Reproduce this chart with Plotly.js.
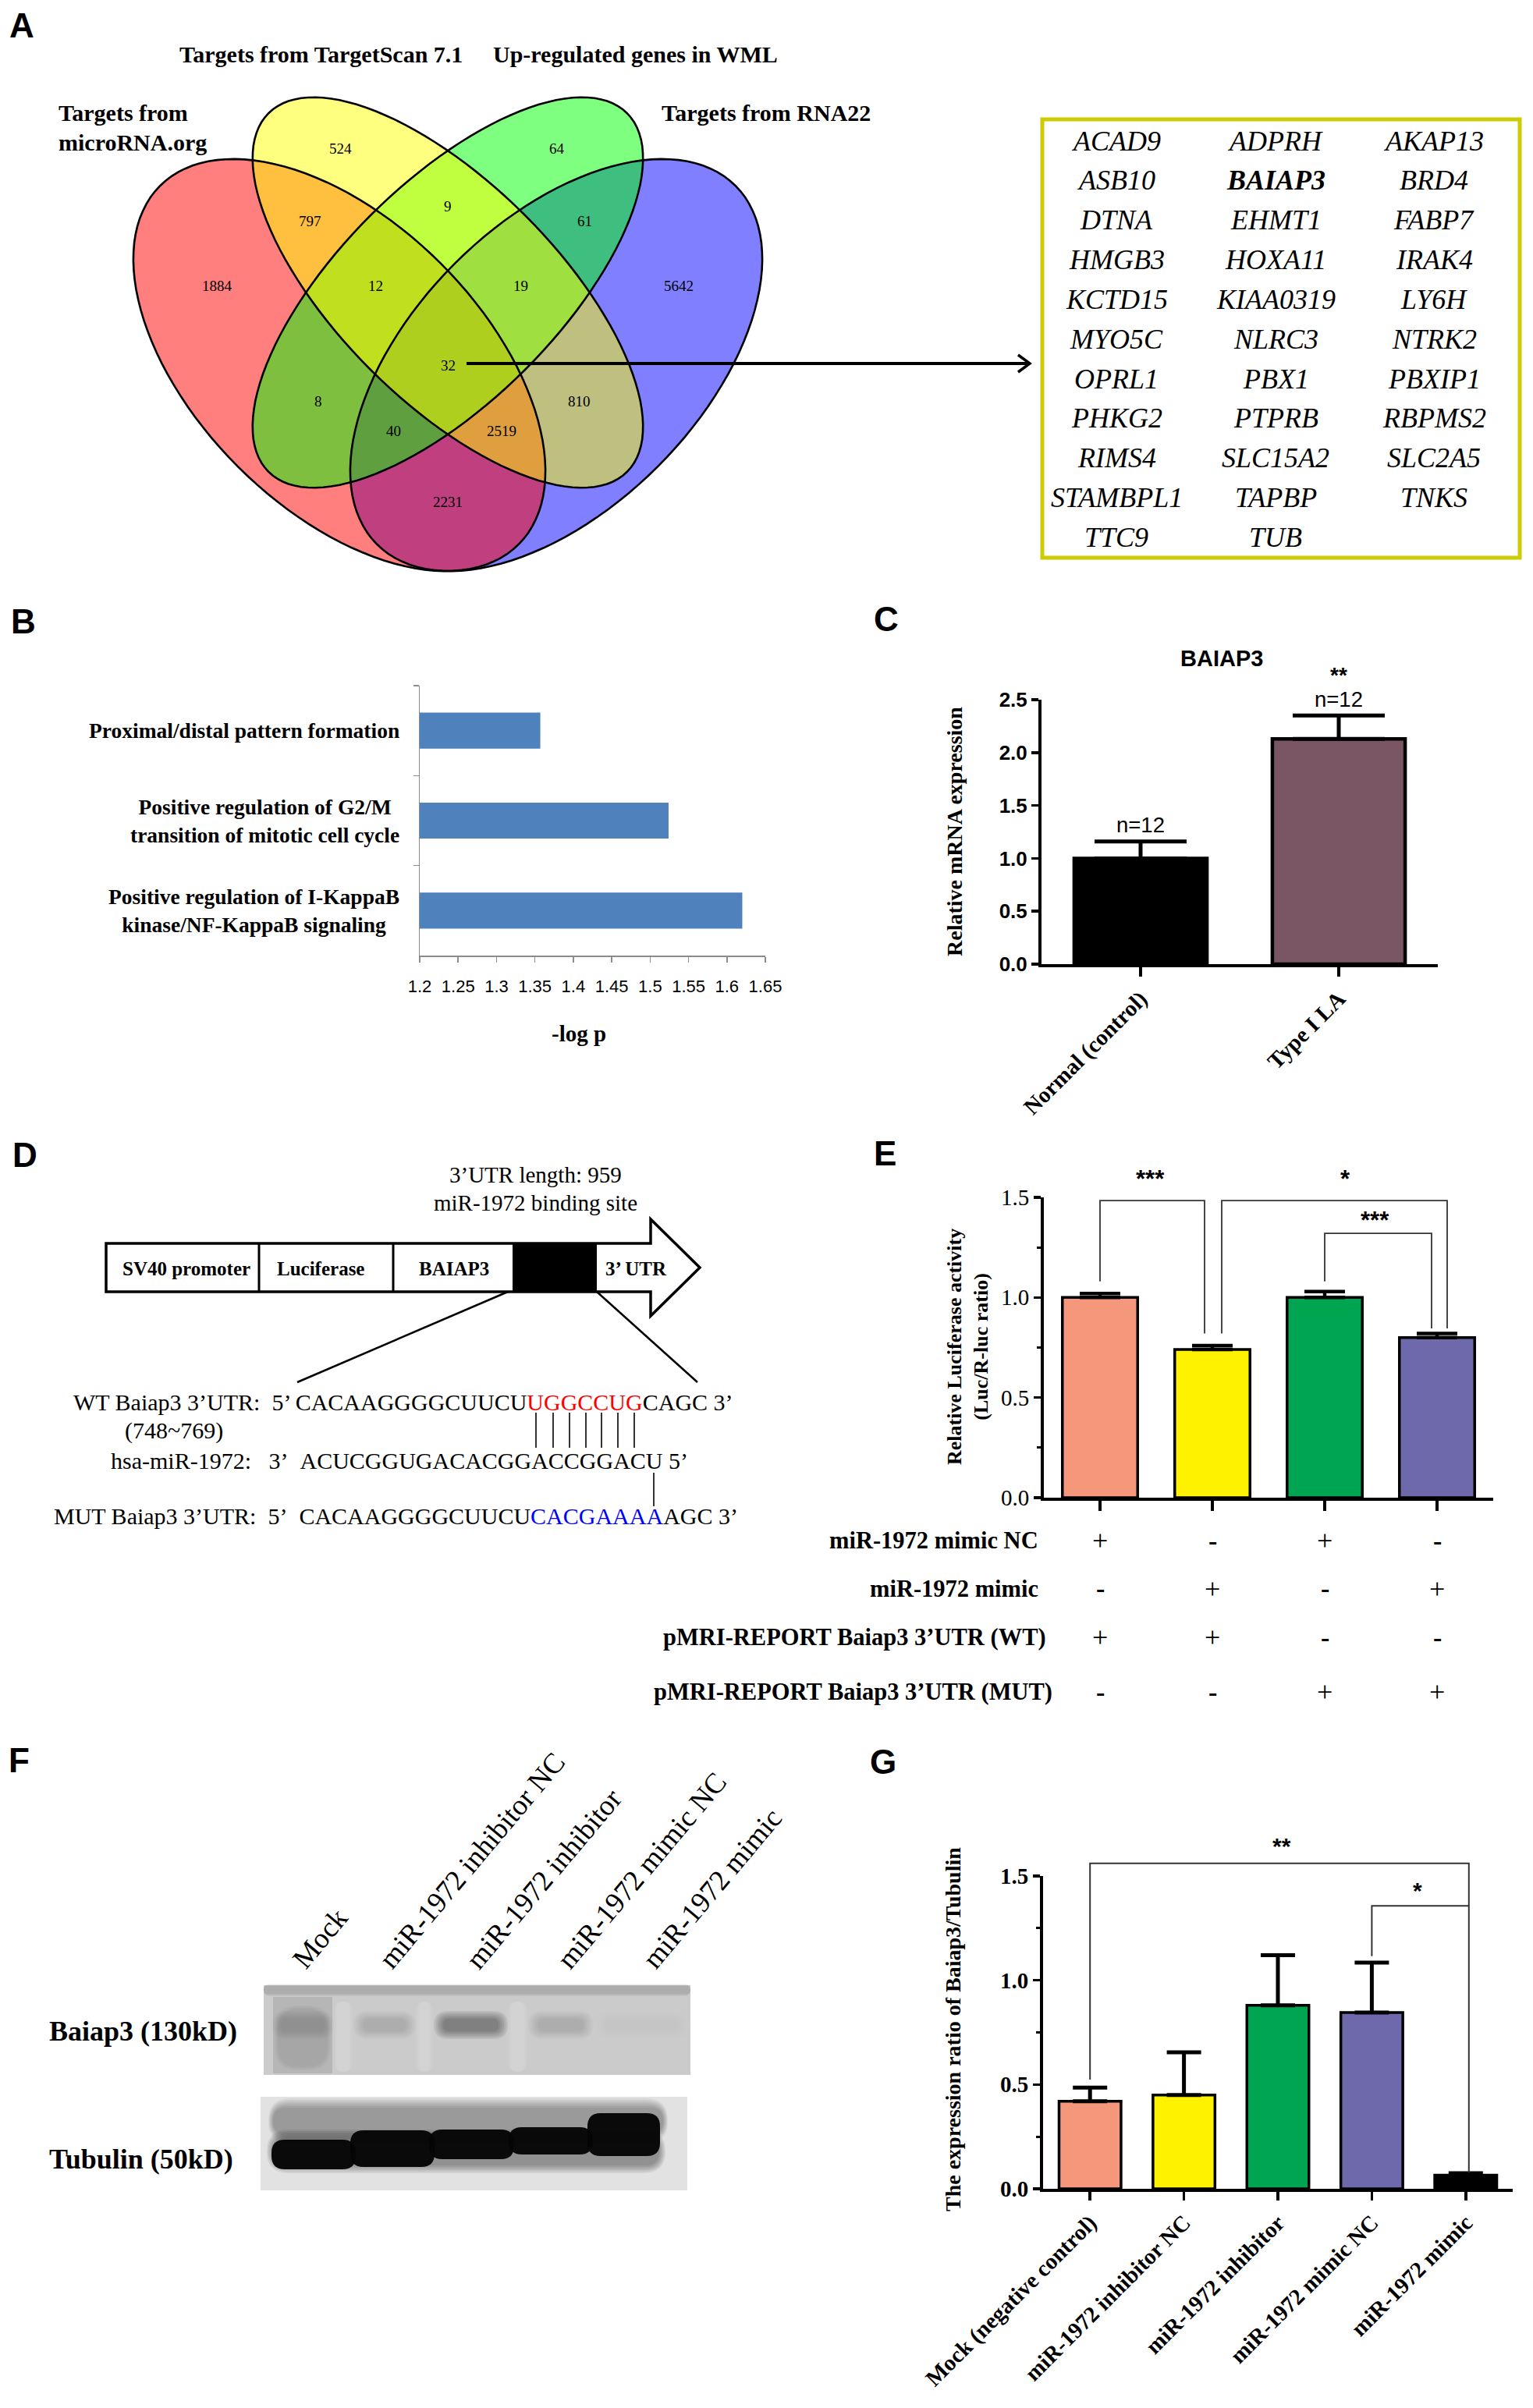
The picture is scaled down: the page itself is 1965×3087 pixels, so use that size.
<!DOCTYPE html>
<html><head><meta charset="utf-8">
<script src="https://cdn.plot.ly/plotly-3.0.1.min.js"></script>
<style>html,body{margin:0;padding:0;background:#fff}</style>
</head><body><div id="chart" style="width:1965px;height:3087px"></div>
<script>
const W=1965,H=3087;
// ================= DATA =================
// A: Venn
const vennSetNames=['Targets from TargetScan 7.1','Up-regulated genes in WML','Targets from RNA22'];
const vennSetName0=['Targets from','microRNA.org'];
const vennRegionCounts=[524,64,9,797,61,1884,12,19,5642,32,8,810,40,2519,2231];
const targetGenes=['ACAD9','ADPRH','AKAP13','ASB10','BAIAP3','BRD4','DTNA','EHMT1','FABP7','HMGB3','HOXA11','IRAK4','KCTD15','KIAA0319','LY6H','MYO5C','NLRC3','NTRK2','OPRL1','PBX1','PBXIP1','PHKG2','PTPRB','RBPMS2','RIMS4','SLC15A2','SLC2A5','STAMBPL1','TAPBP','TNKS','TTC9','TUB'];
const highlightGene='BAIAP3';
// B: GO terms
const goTerms=['Proximal/distal pattern formation','Positive regulation of G2/M<br>transition of mitotic cell cycle','Positive regulation of I-KappaB<br>kinase/NF-KappaB signaling'];
const goNegLogP=[1.357,1.524,1.620];
const goAxisTitle='-log p';
// C: qPCR
const qpcrGroups=['Normal (control)','Type I LA'];
const qpcrMean=[1.00,2.13];
const qpcrSEM=[0.16,0.22];
const qpcrN=['n=12','n=12'];
const qpcrSig='**';
// D: construct text
const constructParts=['SV40 promoter','Luciferase','BAIAP3','3’ UTR'];
// E: luciferase
const lucGroups=['NC+WT','mimic+WT','NC+MUT','mimic+MUT'];
const lucMean=[1.00,0.74,1.00,0.80];
const lucSEM=[0.02,0.02,0.03,0.02];
const lucRowLabels=['miR-1972 mimic NC','miR-1972 mimic','pMRI-REPORT Baiap3 3’UTR (WT)','pMRI-REPORT Baiap3 3’UTR (MUT)'];
const lucSigns=[['+','-','+','-'],['-','+','-','+'],['+','+','-','-'],['-','-','+','+']];
// F: western blot (band darkness, 0..1)
const blotLanes=['Mock','miR-1972 inhibitor NC','miR-1972 inhibitor','miR-1972 mimic NC','miR-1972 mimic'];
const blotProteins=['Baiap3 (130kD)','Tubulin (50kD)'];
const baiap3BandDensity=[0.12,0.13,0.36,0.13,0.01];
const tubulinBandDensity=[0.97,0.97,0.97,0.97,0.97];
// G: quantification
const wbGroups=['Mock (negative control)','miR-1972 inhibitor NC','miR-1972 inhibitor','miR-1972 mimic NC','miR-1972 mimic'];
const wbMean=[0.42,0.45,0.88,0.845,0.065];
const wbSEM=[0.065,0.205,0.24,0.24,0.01];

// ================= STYLE / GEOMETRY =================
const SERIF='"Liberation Serif","Times New Roman",Times,serif';
const SANS='"Liberation Sans",Arial,Helvetica,sans-serif';
const NARROW='"Liberation Sans Narrow","Liberation Sans",Arial,sans-serif';
const PAL4=['#F4977A','#FFF200','#00A551','#6D69AB'];
const PAL5=['#F4977A','#FFF200','#00A551','#6D69AB','#000000'];
const B={x0:538,x1:981,y0:879,y1:1225};
const C={x0:1335,x1:1843,y0:897,y1:1236,max:2.5};
const E={x0:1338,x1:1914,y0:1535,y1:1920,max:1.5};
const G={x0:1337,x1:1939,y0:2405,y1:2806,max:1.5};
const catX=(P,n,i)=>P.x0+(i+0.5)*(P.x1-P.x0)/n;
const valY=(P,v)=>P.y1-v*(P.y1-P.y0)/P.max;
const xd=P=>[P.x0/W,P.x1/W];
const yd=P=>[1-P.y1/H,1-P.y0/H];

const shapes=[],annotations=[];
function T(text,x,y,size,o){o=o||{};
  const a={text:text,xref:'paper',yref:'paper',x:x/W,y:1-y/H,showarrow:false,
    xanchor:o.xa||'center',yanchor:o.ya||'middle',align:o.align||'center',
    font:{family:o.family||SERIF,size:size,color:o.color||'#000'}};
  if(o.angle!==undefined)a.textangle=o.angle;
  annotations.push(a);}
function L(x0,y0,x1,y1,w,c){shapes.push({type:'line',xref:'x',yref:'y',x0:x0,y0:y0,x1:x1,y1:y1,line:{color:c||'#000',width:w}});}
function Pth(d,fill,lw,lc){shapes.push({type:'path',xref:'x',yref:'y',path:d,fillcolor:fill||'rgba(0,0,0,0)',line:{color:lc||'#000',width:lw||0}});}
function R(x0,y0,x1,y1,fill,lw,lc){shapes.push({type:'rect',xref:'x',yref:'y',x0:x0,y0:y0,x1:x1,y1:y1,fillcolor:fill,line:{color:lc||'rgba(0,0,0,0)',width:lw||0}});}
function rr(x0,y0,x1,y1,r){r=Math.max(0,Math.min(r,(x1-x0)/2,(y1-y0)/2));
  return 'M'+(x0+r)+','+y0+' H'+(x1-r)+' Q'+x1+','+y0+' '+x1+','+(y0+r)+' V'+(y1-r)+' Q'+x1+','+y1+' '+(x1-r)+','+y1+
    ' H'+(x0+r)+' Q'+x0+','+y1+' '+x0+','+(y1-r)+' V'+(y0+r)+' Q'+x0+','+y0+' '+(x0+r)+','+y0+' Z';}
// soft (blurred) blob: stacked rounded rects
function soft(x0,y0,x1,y1,dens,sx,sy,rgb,n){n=n||6;rgb=rgb||'0,0,0';
  const a=1-Math.pow(1-Math.min(dens,0.995),1/n);
  for(let k=0;k<n;k++){const f=1-k/(n-1);const ex=sx*f,ey=sy*f;
    Pth(rr(x0-ex,y0-ey,x1+ex,y1+ey,Math.min((y1-y0)/2+ey,28)),'rgba('+rgb+','+a.toFixed(3)+')',0);}}

// panel letters
[['A',28,32],['B',30,796],['C',1136,794],['D',32,1480],['E',1134,1479],['F',24,2256],['G',1132,2258]]
  .forEach(p=>T('<b>'+p[0]+'</b>',p[1],p[2],44,{family:SANS}));

// ---------- A: Venn ----------
function ellipsePath(cx,cy,a,b,deg){const th=deg*Math.PI/180;let d='';
  for(let i=0;i<=120;i++){const t=2*Math.PI*i/120;
    const x=cx+a*Math.cos(t)*Math.cos(th)-b*Math.sin(t)*Math.sin(th);
    const y=cy+a*Math.cos(t)*Math.sin(th)+b*Math.sin(t)*Math.cos(th);
    d+=(i?'L':'M')+x.toFixed(1)+','+y.toFixed(1);}
  return d+'Z';}
const vennEllipses=[
  {cx:713,cy:468,a:325,b:184,deg:135,fill:'rgba(0,0,255,0.5)'},
  {cx:435,cy:468,a:325,b:184,deg:45,fill:'rgba(255,0,0,0.5)'},
  {cx:574,cy:375,a:325,b:140,deg:135,fill:'rgba(0,255,0,0.5)'},
  {cx:574,cy:375,a:325,b:140,deg:45,fill:'rgba(255,255,0,0.5)'}];
vennEllipses.forEach(e=>Pth(ellipsePath(e.cx,e.cy,e.a,e.b,e.deg),e.fill,0));
vennEllipses.forEach(e=>Pth(ellipsePath(e.cx,e.cy,e.a,e.b,e.deg),null,2.6,'#000'));
const vennLabelXY=[[436,190],[714,190],[574,264],[397,283],[749,283],[278,367],[481,367],[667,367],[870,367],[574,469],[408,514],[742,514],[504,552],[643,552],[574,644]];
vennRegionCounts.forEach((c,i)=>T(String(c),vennLabelXY[i][0],vennLabelXY[i][1],19));
T('<b>'+vennSetName0[0]+'</b>',73,145,30,{xa:'left'});
T('<b>'+vennSetName0[1]+'</b>',73,182,30,{xa:'left'});
T('<b>'+vennSetNames[0]+'</b>',411,70,30);
T('<b>'+vennSetNames[1]+'</b>',814,70,30);
T('<b>'+vennSetNames[2]+'</b>',846,145,30,{xa:'left'});
// arrow
L(598,466,1318,466,4);
Pth('M1305,455 L1320,466 L1305,477',null,3.5,'#000');
// gene box
R(1336,153,1948,715,'rgba(0,0,0,0)',5,'#CCCC00');
const geneColX=[1431,1635,1838];
targetGenes.forEach((g,i)=>{const col=i%3,row=Math.floor(i/3);
  const txt=g===highlightGene?'<b><i>'+g+'</i></b>':'<i>'+g+'</i>';
  T(txt,geneColX[col],180.5+row*50.85,36);});

// ---------- B ----------
goTerms.forEach((t,i)=>annotations.push({text:'<b>'+t+'</b>',xref:'paper',yref:'y2',x:514/W,y:t,
  showarrow:false,xanchor:'right',yanchor:'middle',align:'center',font:{family:SERIF,size:27.5,color:'#000'}}));
T('<b>'+goAxisTitle+'</b>',742,1325,29);

// ---------- C ----------
T('<b>BAIAP3</b>',1566,844,29,{family:SANS});
qpcrN.forEach((n,i)=>T(n,catX(C,2,i),valY(C,qpcrMean[i]+qpcrSEM[i])-21,27.5,{family:SANS}));
T('<b>'+qpcrSig+'</b>',catX(C,2,1),valY(C,qpcrMean[1]+qpcrSEM[1])-52,28,{family:SANS});
T('<b>Relative mRNA expression</b>',1224,1066,28,{angle:-90});

// ---------- D ----------
T('3’UTR length: 959',686,1506,29);
T('miR-1972 binding site',686,1542,29);
Pth('M136,1594 H834 V1563 L897,1625 L834,1687 V1656 H136 Z','#fff',3.5,'#000');
L(332,1594,332,1656,3);L(504,1594,504,1656,3);
R(657,1594,765,1656,'#000',0);
const partX=[239,411,582,815];
constructParts.forEach((p,i)=>T('<b>'+p+'</b>',partX[i],1626,25));
L(651,1656,381,1772,2.5);L(765,1656,894,1772,2.5);
const nb='\u00a0';
T('WT Baiap3 3’UTR:'+nb+nb+'5’ CACAAGGGGCUUCU<span style="color:#FF0000">UGGCCUG</span>CAGC 3’',92,1797,30,{xa:'left'});
T('(748~769)',223,1834,30);
T('hsa-miR-1972:'+nb+nb+nb+'3’'+nb+nb+'ACUCGGUGACACGGACCGGACU 5’',140,1872,30,{xa:'left'});
T('MUT Baiap3 3’UTR:'+nb+nb+'5’'+nb+nb+'CACAAGGGGCUUCU<span style="color:#0000FF">CACGAAAA</span>AGC 3’',67,1943,30,{xa:'left'});
[687,709,730,751,771,792,813].forEach(x=>L(x,1811,x,1856,1.6));
L(838,1888,838,1931,1.6);

// ---------- E ----------
annotations.push({text:'<b>Relative Luciferase activity<br>(Luc/R-luc ratio)</b>',xref:'paper',yref:'paper',
  x:1240/W,y:1-1727/H,showarrow:false,textangle:-90,xanchor:'center',yanchor:'middle',align:'center',
  font:{family:SERIF,size:26,color:'#000'}});
function bracket(x0,yb0,yt,x1,yb1,w){let d='M'+x0+','+yb0+' V'+yt+' H'+x1;if(yb1!==null)d+=' V'+yb1;Pth(d,null,w||1.8,'#333');}
bracket(catX(E,4,0),valY(E,1.08),valY(E,1.484),catX(E,4,1)-10,valY(E,0.82));
bracket(catX(E,4,1)+12,valY(E,0.82),valY(E,1.484),catX(E,4,3)+13,valY(E,0.845));
bracket(catX(E,4,2),valY(E,1.08),valY(E,1.32),catX(E,4,3)-7,valY(E,0.845));
T('<b>***</b>',1474,1511,31,{family:SANS});
T('<b>*</b>',1724,1511,31,{family:SANS});
T('<b>***</b>',1762,1564,31,{family:SANS});
const rowY=[1975,2037,2099,2169],rowRight=[1333,1333,1343,1351];
lucRowLabels.forEach((r,i)=>{T('<b>'+r+'</b>',rowRight[i],rowY[i],30.5,{xa:'right'});
  lucSigns[i].forEach((s,j)=>T(s==='+'?'+':'<b>-</b>',catX(E,4,j),rowY[i],s==='+'?36:34));});

// ---------- F ----------
T('<b>'+blotProteins[0]+'</b>',61,2604,36,{xa:'left'});
T('<b>'+blotProteins[1]+'</b>',61,2768,36,{xa:'left'});
const laneStartX=[364,474,586,703,813];
blotLanes.forEach((l,i)=>T(l,laneStartX[i],2534,37,{xa:'left',ya:'bottom',angle:-50}));
// top blot (Baiap3)
R(338,2545,885,2660,'#cbcbcb',0);
soft(338,2546,885,2556,0.18,0,3,'40,40,40',4);
const topLaneX=[[350,426],[455,531],[558,649],[679,758],[766,880]];
const topGapX=[[428,452],[533,555],[651,676]];
topGapX.forEach(g=>soft(g[0]+4,2566,g[1]-4,2656,0.18,4,0,'255,255,255',4));
R(350,2560,426,2658,'rgba(0,0,0,0.10)',0); // mock lane smear
soft(356,2575,420,2650,0.08,4,4,'0,0,0',4);
topLaneX.forEach((lx,i)=>soft(lx[0]+10,2588,lx[1]-10,2604,baiap3BandDensity[i],12,10,'0,0,0',6));
// bottom blot (Tubulin)
R(334,2688,881,2808,'#e2e2e2',0);
soft(350,2702,850,2736,0.30,6,12,'0,0,0',7); // diffuse halo above band
soft(350,2740,845,2776,0.35,8,10,'0,0,0',6);
const tubLanes=[[348,456,2743,2781],[449,557,2731,2778],[550,659,2730,2768],[652,760,2727,2762],[753,846,2709,2764]];
tubLanes.forEach((t,i)=>Pth(rr(t[0],t[2],t[1],t[3],17),'rgba(5,5,5,'+tubulinBandDensity[i]+')',0));

// ---------- G ----------
T('<b>The expression ratio of Baiap3/Tubulin</b>',1221,2602,28,{angle:-90});
bracket(catX(G,5,0),valY(G,0.524),valY(G,1.561),catX(G,5,4)+4,valY(G,0.078),2);
bracket(catX(G,5,3),valY(G,1.116),valY(G,1.357),catX(G,5,4)+4,null,2);
T('<b>**</b>',1643,2366,30,{family:SANS});
T('<b>*</b>',1817,2423,30,{family:SANS});

// ================= TRACES =================
const boldSerif=s=>({family:SERIF,size:s,color:'#000',weight:'bold'});
const traces=[
 {type:'scatter',x:[0],y:[0],xaxis:'x',yaxis:'y',mode:'markers',marker:{opacity:0},hoverinfo:'skip'},
 {type:'bar',orientation:'h',x:goNegLogP,y:goTerms,xaxis:'x2',yaxis:'y2',width:0.4,marker:{color:'#4F81BD'}},
 {type:'bar',x:qpcrGroups,y:qpcrMean,xaxis:'x3',yaxis:'y3',width:0.67,
  marker:{color:['#000000','#7A5563'],line:{color:'#000',width:4.5}},
  error_y:{type:'data',symmetric:false,array:qpcrSEM,arrayminus:[0,0],color:'#000',thickness:5,width:59}},
 {type:'bar',x:lucGroups,y:lucMean,xaxis:'x4',yaxis:'y4',width:0.67,
  marker:{color:PAL4,line:{color:'#000',width:3.5}},
  error_y:{type:'data',symmetric:false,array:lucSEM,arrayminus:[0,0,0,0],color:'#000',thickness:4.5,width:26}},
 {type:'bar',x:wbGroups,y:wbMean,xaxis:'x5',yaxis:'y5',width:0.66,
  marker:{color:PAL5,line:{color:'#000',width:3.5}},
  error_y:{type:'data',symmetric:false,array:wbSEM,arrayminus:[0,0,0,0,0],color:'#000',thickness:5,width:22}}
];
const blackAxis={showline:true,linecolor:'#000',linewidth:4,ticks:'outside',tickcolor:'#000',tickwidth:3.5,showgrid:false,zeroline:false,fixedrange:true};
const layout={
 width:W,height:H,margin:{l:0,r:0,t:0,b:0},paper_bgcolor:'#fff',plot_bgcolor:'rgba(0,0,0,0)',
 showlegend:false,hovermode:false,font:{family:SERIF,color:'#000'},
 xaxis:{domain:[0,1],range:[0,W],visible:false,fixedrange:true},
 yaxis:{domain:[0,1],range:[H,0],visible:false,fixedrange:true},
 xaxis2:{domain:xd(B),anchor:'y2',range:[1.2,1.65],tick0:1.2,dtick:0.05,ticks:'outside',ticklen:7,tickwidth:1.5,tickcolor:'#8c8c8c',
   showline:true,linecolor:'#8c8c8c',linewidth:1.5,showgrid:false,zeroline:false,tickfont:{family:NARROW,size:22,color:'#000'},ticklabelstandoff:12},
 yaxis2:{domain:yd(B),anchor:'x2',type:'category',autorange:'reversed',tickson:'boundaries',ticks:'outside',ticklen:7,tickwidth:1.5,
   tickcolor:'#8c8c8c',showline:true,linecolor:'#8c8c8c',linewidth:1.5,showticklabels:false,showgrid:false,zeroline:false},
 xaxis3:Object.assign({},blackAxis,{domain:xd(C),anchor:'y3',type:'category',range:[-0.5,1.5],ticklen:12,tickangle:-45,tickfont:boldSerif(29)}),
 yaxis3:Object.assign({},blackAxis,{domain:yd(C),anchor:'x3',range:[0,2.5],dtick:0.5,tickformat:'.1f',ticklen:9,
   tickfont:{family:SANS,size:26,color:'#000',weight:'bold'}}),
 xaxis4:Object.assign({},blackAxis,{domain:xd(E),anchor:'y4',type:'category',range:[-0.5,3.5],ticklen:13,showticklabels:false}),
 yaxis4:Object.assign({},blackAxis,{domain:yd(E),anchor:'x4',range:[0,1.5],dtick:0.5,tickformat:'.1f',ticklen:9,
   tickfont:{family:SERIF,size:29,color:'#000'},minor:{dtick:0.25,ticks:'outside',ticklen:5,tickwidth:3,tickcolor:'#000'}}),
 xaxis5:Object.assign({},blackAxis,{domain:xd(G),anchor:'y5',type:'category',range:[-0.5,4.5],ticklen:11,tickangle:-45,tickfont:boldSerif(29)}),
 yaxis5:Object.assign({},blackAxis,{domain:yd(G),anchor:'x5',range:[0,1.5],dtick:0.5,tickformat:'.1f',ticklen:9,
   tickfont:boldSerif(29),minor:{dtick:0.25,ticks:'outside',ticklen:5,tickwidth:3,tickcolor:'#000'}}),
 shapes:shapes,annotations:annotations
};
Plotly.newPlot('chart',traces,layout,{staticPlot:true,displayModeBar:false});
</script></body></html>
